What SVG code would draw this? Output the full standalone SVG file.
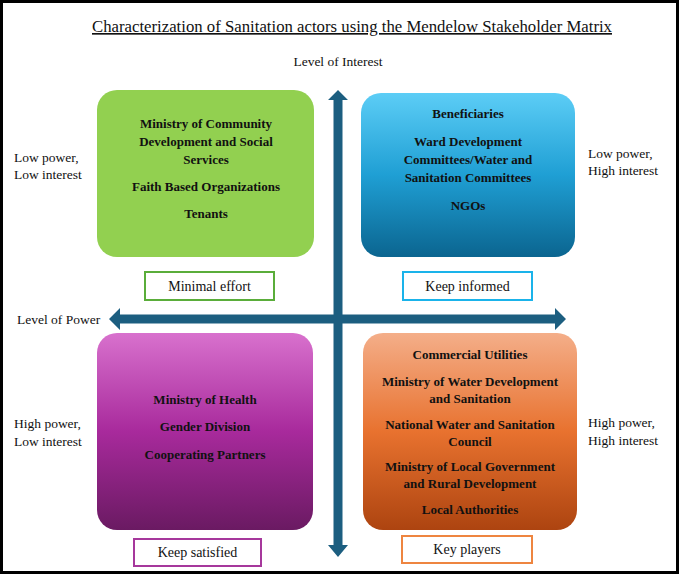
<svg xmlns="http://www.w3.org/2000/svg" width="680" height="575" viewBox="0 0 680 575">
  <defs>
    <linearGradient id="gBlue" x1="0" y1="0" x2="0" y2="1">
      <stop offset="0" stop-color="#5ccdf6"/>
      <stop offset="0.5" stop-color="#1f9fd4"/>
      <stop offset="1" stop-color="#0b6590"/>
    </linearGradient>
    <linearGradient id="gPurple" x1="0" y1="0" x2="0" y2="1">
      <stop offset="0" stop-color="#d871cd"/>
      <stop offset="0.5" stop-color="#a82a9c"/>
      <stop offset="1" stop-color="#6a1a62"/>
    </linearGradient>
    <linearGradient id="gOrange" x1="0" y1="0" x2="0" y2="1">
      <stop offset="0" stop-color="#f4ae89"/>
      <stop offset="0.5" stop-color="#e8722f"/>
      <stop offset="1" stop-color="#ad4410"/>
    </linearGradient>
  </defs>
  <style>
    text { font-family: "Liberation Serif", "DejaVu Serif", serif; fill: #111; }
    .title { font-size: 16.5px; text-decoration: underline; }
    .axis { font-size: 13.5px; }
    .side { font-size: 13.5px; }
    .item { font-size: 13px; font-weight: bold; text-anchor: middle; }
    .tag { font-size: 14px; text-anchor: middle; }
    .tagbox { fill: #fff; stroke-width: 2; }
    .arrow { fill: #1c5e80; }
  </style>
  <rect x="1.5" y="1.5" width="676" height="571" fill="#fff" stroke="#000" stroke-width="3"/>
  <text class="title" x="352" y="32" text-anchor="middle" textLength="520" lengthAdjust="spacingAndGlyphs">Characterization of Sanitation actors using the Mendelow Stakeholder Matrix</text>
  <text class="axis" x="338" y="66" text-anchor="middle">Level of Interest</text>
  <text class="axis" x="17" y="324">Level of Power</text>

  <g id="quad-low-power-low-interest">
    <rect x="97" y="90" width="217" height="167" rx="20" fill="#92d050"/>
    <text class="item" x="206" y="128">Ministry of Community</text>
    <text class="item" x="206" y="146">Development and Social</text>
    <text class="item" x="206" y="164">Services</text>
    <text class="item" x="206" y="191">Faith Based Organizations</text>
    <text class="item" x="206" y="218">Tenants</text>
  </g>
  <g id="quad-low-power-high-interest">
    <rect x="361" y="93" width="214" height="164" rx="20" fill="url(#gBlue)"/>
    <text class="item" x="468" y="118">Beneficiaries</text>
    <text class="item" x="468" y="146">Ward Development</text>
    <text class="item" x="468" y="164">Committees/Water and</text>
    <text class="item" x="468" y="182">Sanitation Committees</text>
    <text class="item" x="468" y="210">NGOs</text>
  </g>
  <g id="quad-high-power-low-interest">
    <rect x="97" y="333" width="216" height="197" rx="20" fill="url(#gPurple)"/>
    <text class="item" x="205" y="404">Ministry of Health</text>
    <text class="item" x="205" y="431">Gender Division</text>
    <text class="item" x="205" y="459">Cooperating Partners</text>
  </g>
  <g id="quad-high-power-high-interest">
    <rect x="363" y="333" width="214" height="197" rx="20" fill="url(#gOrange)"/>
    <text class="item" x="470" y="359">Commercial Utilities</text>
    <text class="item" x="470" y="386">Ministry of Water Development</text>
    <text class="item" x="470" y="403">and Sanitation</text>
    <text class="item" x="470" y="429">National Water and Sanitation</text>
    <text class="item" x="470" y="446">Council</text>
    <text class="item" x="470" y="471">Ministry of Local Government</text>
    <text class="item" x="470" y="488">and Rural Development</text>
    <text class="item" x="470" y="514">Local Authorities</text>
  </g>

  <g id="tag-minimal-effort">
    <rect class="tagbox" x="145" y="272" width="129" height="28" stroke="#5aad3a"/>
    <text class="tag" x="209.5" y="291">Minimal effort</text>
  </g>
  <g id="tag-keep-informed">
    <rect class="tagbox" x="403" y="272" width="129" height="28" stroke="#1ab3ea"/>
    <text class="tag" x="467.5" y="291">Keep informed</text>
  </g>
  <g id="tag-keep-satisfied">
    <rect class="tagbox" x="134" y="539" width="127" height="27" stroke="#a6389c"/>
    <text class="tag" x="197.5" y="557">Keep satisfied</text>
  </g>
  <g id="tag-key-players">
    <rect class="tagbox" x="402" y="536" width="130" height="27" stroke="#ee8540"/>
    <text class="tag" x="467" y="554">Key players</text>
  </g>

  <g id="side-labels">
    <text class="side" x="14" y="162">Low power,</text>
    <text class="side" x="14" y="179">Low interest</text>
    <text class="side" x="588" y="158">Low power,</text>
    <text class="side" x="588" y="175">High interest</text>
    <text class="side" x="14" y="428">High power,</text>
    <text class="side" x="14" y="446">Low interest</text>
    <text class="side" x="588" y="427">High power,</text>
    <text class="side" x="588" y="445">High interest</text>
  </g>

  <g id="connectors">
    <polygon class="arrow" points="338,90 348,100 342.5,100 342.5,545 348,545 338,557 328,545 333.5,545 333.5,100 328,100"/>
    <polygon class="arrow" points="109,319 120,308 120,314.5 555,314.5 555,308 566,319 555,330 555,323.5 120,323.5 120,330"/>
  </g>
</svg>
